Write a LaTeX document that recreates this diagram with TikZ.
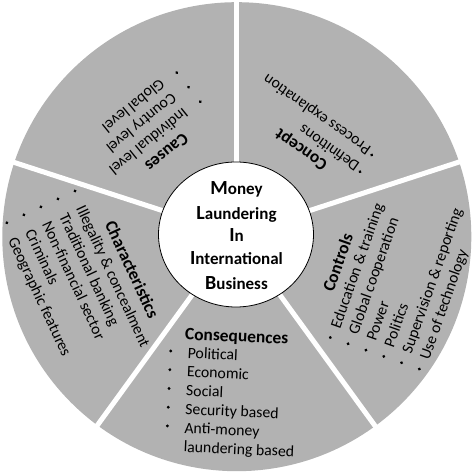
\documentclass[tikz,border=0pt]{standalone}
\usepackage{fontspec}
\setmainfont{Carlito}
\usetikzlibrary{shapes.geometric}
\definecolor{sect}{gray}{0.70}
\tikzset{
  itemtext/.style={anchor=base west, inner sep=0pt, font=\fontsize{15.8}{18}\selectfont, text=black},
  titletext/.style={anchor=base west, inner sep=0pt, font=\bfseries\fontsize{17.4}{20}\selectfont, text=black},
  dot/.style={circle, fill=black, inner sep=0pt, minimum size=3.2pt},
  centertext/.style={anchor=base, inner sep=0pt, font=\bfseries\fontsize{17}{20}\selectfont},
  divider/.style={white, line width=5pt},
  hubshape/.style={ellipse, draw=black, line width=0.8pt, fill=white, minimum width=155pt, minimum height=145pt, inner sep=0pt},
}
\newcommand{\firstletter}[1]{{\fontsize{20}{20}\selectfont #1}}
\begin{document}
\begin{tikzpicture}[x=1pt,y=1pt]
\useasboundingbox (0,0) rectangle (474,473);
\coordinate (O) at (236.8,236.3);
\coordinate (C) at (236,238.5);
\fill[sect] (O) circle (234.5);
\foreach \a in {18,90,162,234,306} \draw[divider] (C) -- ++(\a:240);
\node[hubshape] (hub) at (C) {};

% centre text
\node[centertext] (l1) at (236.5,278) {\firstletter{M}oney};
\node[centertext] (l2) at (236.5,253.5) {\firstletter{L}aundering};
\node[centertext] (l3) at (236.5,231.5) {\firstletter{I}n};
\node[centertext] (l4) at (236.5,208) {\firstletter{I}nternational};
\node[centertext] (l5) at (236.5,183) {\firstletter{B}usiness};

% Causes
\begin{scope}[shift={(200.3,371.3)}, rotate=219, transform shape]
  \node[titletext] (causesT) at (33,13) {Causes};
  \foreach \t [count=\i from 0] in {{Individual level},{Country level},{Global level}} {
    \node[dot] (cab\i) at (0,{-\i*18.7}) {};
    \node[itemtext] (cai\i) at (17,{-\i*18.7-6.5}) {\t};
  }
\end{scope}

% Concept
\begin{scope}[shift={(360,301.3)}, rotate=145, transform shape]
  \node[titletext] (conceptT) at (31,10.5) {Concept};
  \foreach \t [count=\i from 0] in {{Definitions},{Process explanation}} {
    \node[dot] (cob\i) at (0,{-\i*20.4}) {};
    \node[itemtext] (coi\i) at (4,{-\i*20.4-6.5}) {\t};
  }
\end{scope}

% Controls
\begin{scope}[shift={(330.3,135.5)}, rotate=70.5, transform shape]
  \node[titletext] (controlsT) at (43,12) {Controls};
  \foreach \t [count=\i from 0] in {{Education \& training},{Global cooperation},{Power},{Politics},{Supervision \& reporting},{Use of technology}} {
    \node[dot] (ctb\i) at (0,{-\i*18.9}) {};
    \node[itemtext] (cti\i) at (11,{-\i*18.9-6.5}) {\t};
  }
\end{scope}

% Consequences
\begin{scope}[shift={(170.7,122)}, rotate=-2.5, transform shape]
  \node[titletext] (consT) at (13.5,12) {Consequences};
  \foreach \t [count=\i from 0] in {{Political},{Economic},{Social},{Security based},{Anti-money}} {
    \node[dot] (csb\i) at (0,{-\i*18.75}) {};
    \node[itemtext] (csi\i) at (17,{-\i*18.75-6.5}) {\t};
  }
  \node[itemtext] (csi5) at (17,{-5*18.75-6.5}) {laundering based};
\end{scope}

% Characteristics
\begin{scope}[shift={(75,282)}, rotate=-65, transform shape]
  \node[titletext] (charT) at (42.6,12.7) {Characteristics};
  \foreach \t [count=\i from 0] in {{Illegality \& concealment},{Traditional banking},{Non-financial sector},{Criminals},{Geographic features}} {
    \node[dot] (chb\i) at (0,{-\i*18.8}) {};
    \node[itemtext] (chi\i) at (16,{-\i*18.8-6.5}) {\t};
  }
\end{scope}
\end{tikzpicture}
\end{document}
